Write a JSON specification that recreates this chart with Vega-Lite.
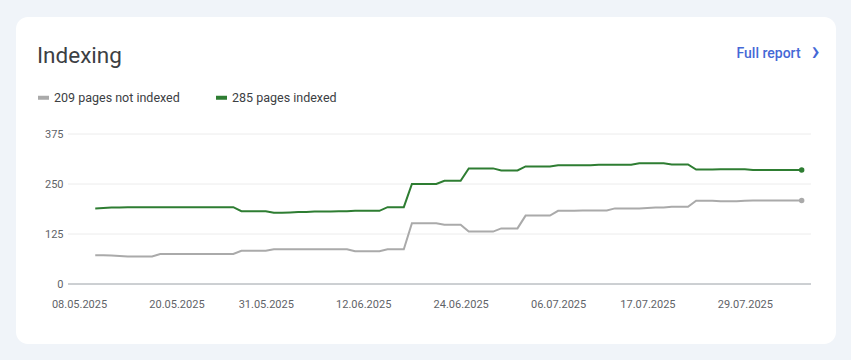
{
  "$schema": "https://vega.github.io/schema/vega-lite/v6.json",
  "width": 820,
  "height": 327,
  "autosize": {"type": "none"},
  "padding": {"left": 16, "top": 17, "right": 15, "bottom": 16},
  "background": "#f0f4f9",
  "config": {
    "view": {"fill": "#ffffff", "stroke": null, "cornerRadius": 12},
    "font": "Roboto"
  },
  "title": {
    "text": "Indexing",
    "anchor": "start",
    "frame": "group",
    "orient": "top",
    "offset": -68,
    "dx": 21,
    "baseline": "alphabetic",
    "font": "Roboto",
    "fontSize": 22.5,
    "fontWeight": 400,
    "color": "#3c4043"
  },
  "data": {
    "values": [
      {"date": "2025-05-10", "209 pages not indexed": 72, "285 pages indexed": 189},
      {"date": "2025-05-11", "209 pages not indexed": 72, "285 pages indexed": 190},
      {"date": "2025-05-12", "209 pages not indexed": 71, "285 pages indexed": 191},
      {"date": "2025-05-13", "209 pages not indexed": 70, "285 pages indexed": 191},
      {"date": "2025-05-14", "209 pages not indexed": 69, "285 pages indexed": 192},
      {"date": "2025-05-15", "209 pages not indexed": 69, "285 pages indexed": 192},
      {"date": "2025-05-16", "209 pages not indexed": 69, "285 pages indexed": 192},
      {"date": "2025-05-17", "209 pages not indexed": 69, "285 pages indexed": 192},
      {"date": "2025-05-18", "209 pages not indexed": 75, "285 pages indexed": 192},
      {"date": "2025-05-19", "209 pages not indexed": 75, "285 pages indexed": 192},
      {"date": "2025-05-20", "209 pages not indexed": 75, "285 pages indexed": 192},
      {"date": "2025-05-21", "209 pages not indexed": 75, "285 pages indexed": 192},
      {"date": "2025-05-22", "209 pages not indexed": 75, "285 pages indexed": 192},
      {"date": "2025-05-23", "209 pages not indexed": 75, "285 pages indexed": 192},
      {"date": "2025-05-24", "209 pages not indexed": 75, "285 pages indexed": 192},
      {"date": "2025-05-25", "209 pages not indexed": 75, "285 pages indexed": 192},
      {"date": "2025-05-26", "209 pages not indexed": 75, "285 pages indexed": 192},
      {"date": "2025-05-27", "209 pages not indexed": 75, "285 pages indexed": 192},
      {"date": "2025-05-28", "209 pages not indexed": 83, "285 pages indexed": 182},
      {"date": "2025-05-29", "209 pages not indexed": 83, "285 pages indexed": 182},
      {"date": "2025-05-30", "209 pages not indexed": 83, "285 pages indexed": 182},
      {"date": "2025-05-31", "209 pages not indexed": 83, "285 pages indexed": 182},
      {"date": "2025-06-01", "209 pages not indexed": 87, "285 pages indexed": 178},
      {"date": "2025-06-02", "209 pages not indexed": 87, "285 pages indexed": 178},
      {"date": "2025-06-03", "209 pages not indexed": 87, "285 pages indexed": 179},
      {"date": "2025-06-04", "209 pages not indexed": 87, "285 pages indexed": 180},
      {"date": "2025-06-05", "209 pages not indexed": 87, "285 pages indexed": 180},
      {"date": "2025-06-06", "209 pages not indexed": 87, "285 pages indexed": 181},
      {"date": "2025-06-07", "209 pages not indexed": 87, "285 pages indexed": 181},
      {"date": "2025-06-08", "209 pages not indexed": 87, "285 pages indexed": 181},
      {"date": "2025-06-09", "209 pages not indexed": 87, "285 pages indexed": 182},
      {"date": "2025-06-10", "209 pages not indexed": 87, "285 pages indexed": 182},
      {"date": "2025-06-11", "209 pages not indexed": 82, "285 pages indexed": 183},
      {"date": "2025-06-12", "209 pages not indexed": 82, "285 pages indexed": 183},
      {"date": "2025-06-13", "209 pages not indexed": 82, "285 pages indexed": 183},
      {"date": "2025-06-14", "209 pages not indexed": 82, "285 pages indexed": 183},
      {"date": "2025-06-15", "209 pages not indexed": 87, "285 pages indexed": 192},
      {"date": "2025-06-16", "209 pages not indexed": 87, "285 pages indexed": 192},
      {"date": "2025-06-17", "209 pages not indexed": 87, "285 pages indexed": 192},
      {"date": "2025-06-18", "209 pages not indexed": 152, "285 pages indexed": 250},
      {"date": "2025-06-19", "209 pages not indexed": 152, "285 pages indexed": 250},
      {"date": "2025-06-20", "209 pages not indexed": 152, "285 pages indexed": 250},
      {"date": "2025-06-21", "209 pages not indexed": 152, "285 pages indexed": 250},
      {"date": "2025-06-22", "209 pages not indexed": 148, "285 pages indexed": 258},
      {"date": "2025-06-23", "209 pages not indexed": 148, "285 pages indexed": 258},
      {"date": "2025-06-24", "209 pages not indexed": 148, "285 pages indexed": 258},
      {"date": "2025-06-25", "209 pages not indexed": 131, "285 pages indexed": 289},
      {"date": "2025-06-26", "209 pages not indexed": 131, "285 pages indexed": 289},
      {"date": "2025-06-27", "209 pages not indexed": 131, "285 pages indexed": 289},
      {"date": "2025-06-28", "209 pages not indexed": 131, "285 pages indexed": 289},
      {"date": "2025-06-29", "209 pages not indexed": 139, "285 pages indexed": 284},
      {"date": "2025-06-30", "209 pages not indexed": 139, "285 pages indexed": 284},
      {"date": "2025-07-01", "209 pages not indexed": 139, "285 pages indexed": 284},
      {"date": "2025-07-02", "209 pages not indexed": 171, "285 pages indexed": 294},
      {"date": "2025-07-03", "209 pages not indexed": 171, "285 pages indexed": 294},
      {"date": "2025-07-04", "209 pages not indexed": 171, "285 pages indexed": 294},
      {"date": "2025-07-05", "209 pages not indexed": 171, "285 pages indexed": 294},
      {"date": "2025-07-06", "209 pages not indexed": 183, "285 pages indexed": 297},
      {"date": "2025-07-07", "209 pages not indexed": 183, "285 pages indexed": 297},
      {"date": "2025-07-08", "209 pages not indexed": 183, "285 pages indexed": 297},
      {"date": "2025-07-09", "209 pages not indexed": 184, "285 pages indexed": 297},
      {"date": "2025-07-10", "209 pages not indexed": 184, "285 pages indexed": 297},
      {"date": "2025-07-11", "209 pages not indexed": 184, "285 pages indexed": 298},
      {"date": "2025-07-12", "209 pages not indexed": 184, "285 pages indexed": 298},
      {"date": "2025-07-13", "209 pages not indexed": 189, "285 pages indexed": 298},
      {"date": "2025-07-14", "209 pages not indexed": 189, "285 pages indexed": 298},
      {"date": "2025-07-15", "209 pages not indexed": 189, "285 pages indexed": 298},
      {"date": "2025-07-16", "209 pages not indexed": 189, "285 pages indexed": 302},
      {"date": "2025-07-17", "209 pages not indexed": 190, "285 pages indexed": 302},
      {"date": "2025-07-18", "209 pages not indexed": 191, "285 pages indexed": 302},
      {"date": "2025-07-19", "209 pages not indexed": 191, "285 pages indexed": 302},
      {"date": "2025-07-20", "209 pages not indexed": 193, "285 pages indexed": 299},
      {"date": "2025-07-21", "209 pages not indexed": 193, "285 pages indexed": 299},
      {"date": "2025-07-22", "209 pages not indexed": 193, "285 pages indexed": 299},
      {"date": "2025-07-23", "209 pages not indexed": 208, "285 pages indexed": 286},
      {"date": "2025-07-24", "209 pages not indexed": 208, "285 pages indexed": 286},
      {"date": "2025-07-25", "209 pages not indexed": 208, "285 pages indexed": 286},
      {"date": "2025-07-26", "209 pages not indexed": 207, "285 pages indexed": 287},
      {"date": "2025-07-27", "209 pages not indexed": 207, "285 pages indexed": 287},
      {"date": "2025-07-28", "209 pages not indexed": 207, "285 pages indexed": 287},
      {"date": "2025-07-29", "209 pages not indexed": 208, "285 pages indexed": 287},
      {"date": "2025-07-30", "209 pages not indexed": 209, "285 pages indexed": 285},
      {"date": "2025-07-31", "209 pages not indexed": 209, "285 pages indexed": 285},
      {"date": "2025-08-01", "209 pages not indexed": 209, "285 pages indexed": 285},
      {"date": "2025-08-02", "209 pages not indexed": 209, "285 pages indexed": 285},
      {"date": "2025-08-03", "209 pages not indexed": 209, "285 pages indexed": 285},
      {"date": "2025-08-04", "209 pages not indexed": 209, "285 pages indexed": 285},
      {"date": "2025-08-05", "209 pages not indexed": 209, "285 pages indexed": 285}
    ]
  },
  "layer": [
    {
      "data": {"values": [{"tick": 0}, {"tick": 125}, {"tick": 250}, {"tick": 375}]},
      "mark": {"type": "rule", "strokeWidth": 1},
      "encoding": {
        "y": {"field": "tick", "type": "quantitative", "scale": {"domain": [-150, 667.5], "nice": false, "zero": false}},
        "x": {"datum": {"year": 2025, "month": 5, "date": 6, "hours": 15, "minutes": 29, "utc": true}, "type": "temporal", "scale": {"type": "utc", "domain": [{"year": 2025, "month": 4, "date": 30, "hours": 5, "minutes": 47, "utc": true}, {"year": 2025, "month": 8, "date": 9, "hours": 5, "minutes": 27, "utc": true}], "nice": false}},
        "x2": {"datum": {"year": 2025, "month": 8, "date": 6, "hours": 3, "minutes": 33, "utc": true}},
        "stroke": {"condition": {"test": "datum.tick === 0", "value": "#9aa0a6"}, "value": "#ececec"}
      }
    },
    {
      "transform": [{"fold": ["209 pages not indexed", "285 pages indexed"], "as": ["series", "value"]}],
      "mark": {"type": "line", "strokeWidth": 2, "interpolate": "linear"},
      "encoding": {
        "x": {
          "field": "date", "type": "temporal",
          "scale": {"type": "utc", "domain": [{"year": 2025, "month": 4, "date": 30, "hours": 5, "minutes": 47, "utc": true}, {"year": 2025, "month": 8, "date": 9, "hours": 5, "minutes": 27, "utc": true}], "nice": false},
          "axis": {
            "title": "Full report",
            "titleX": 720,
            "titleY": -227,
            "titleAlign": "left",
            "titleBaseline": "alphabetic",
            "titleFont": "Roboto",
            "titleFontSize": 14,
            "titleFontWeight": 500,
            "titleColor": "#4568d6",
            "values": [
              {"year": 2025, "month": 5, "date": 8, "utc": true},
              {"year": 2025, "month": 5, "date": 20, "utc": true},
              {"year": 2025, "month": 5, "date": 31, "utc": true},
              {"year": 2025, "month": 6, "date": 12, "utc": true},
              {"year": 2025, "month": 6, "date": 24, "utc": true},
              {"year": 2025, "month": 7, "date": 6, "utc": true},
              {"year": 2025, "month": 7, "date": 17, "utc": true},
              {"year": 2025, "month": 7, "date": 29, "utc": true}
            ],
            "labelExpr": "utcFormat(datum.value, '%d.%m.%Y')",
            "labelFont": "Roboto",
            "labelFontSize": 11,
            "labelColor": "#5f6368",
            "labelPadding": 14,
            "labelOverlap": false,
            "labelFlush": false,
            "ticks": false,
            "domain": false,
            "grid": false,
            "offset": -60
          }
        },
        "y": {
          "field": "value", "type": "quantitative",
          "scale": {"domain": [-150, 667.5], "nice": false, "zero": false},
          "axis": {
            "title": "›",
            "titleAngle": 0,
            "titleX": 747,
            "titleY": 34,
            "titleAlign": "center",
            "titleBaseline": "middle",
            "titleFont": "Roboto",
            "titleFontSize": 27,
            "titleFontWeight": 500,
            "titleColor": "#4568d6",
            "values": [0, 125, 250, 375],
            "labelFont": "Roboto",
            "labelFontSize": 11,
            "labelColor": "#5f6368",
            "labelPadding": 5,
            "ticks": false,
            "domain": false,
            "grid": false,
            "offset": -52
          }
        },
        "color": {
          "field": "series", "type": "nominal",
          "scale": {"domain": ["209 pages not indexed", "285 pages indexed"], "range": ["#aaaaaa", "#2e7d32"]},
          "legend": {
            "orient": "none",
            "legendX": 20,
            "legendY": 73,
            "direction": "horizontal",
            "title": null,
            "symbolType": "stroke",
            "symbolStrokeWidth": 4,
            "symbolSize": 121,
            "labelFont": "Roboto",
            "labelFontSize": 12.5,
            "labelColor": "#3c4043",
            "labelOffset": 3,
            "columnPadding": 28,
            "padding": 0
          }
        }
      }
    },
    {
      "transform": [
        {"fold": ["209 pages not indexed", "285 pages indexed"], "as": ["series", "value"]},
        {"filter": {"field": "date", "equal": {"year": 2025, "month": 8, "date": 5, "utc": true}}}
      ],
      "mark": {"type": "point", "filled": true, "size": 30, "opacity": 1},
      "encoding": {
        "x": {"field": "date", "type": "temporal", "scale": {"type": "utc", "domain": [{"year": 2025, "month": 4, "date": 30, "hours": 5, "minutes": 47, "utc": true}, {"year": 2025, "month": 8, "date": 9, "hours": 5, "minutes": 27, "utc": true}], "nice": false}},
        "y": {"field": "value", "type": "quantitative", "scale": {"domain": [-150, 667.5], "nice": false, "zero": false}},
        "color": {"field": "series", "type": "nominal", "scale": {"domain": ["209 pages not indexed", "285 pages indexed"], "range": ["#aaaaaa", "#2e7d32"]}, "legend": null}
      }
    }
  ]
}
